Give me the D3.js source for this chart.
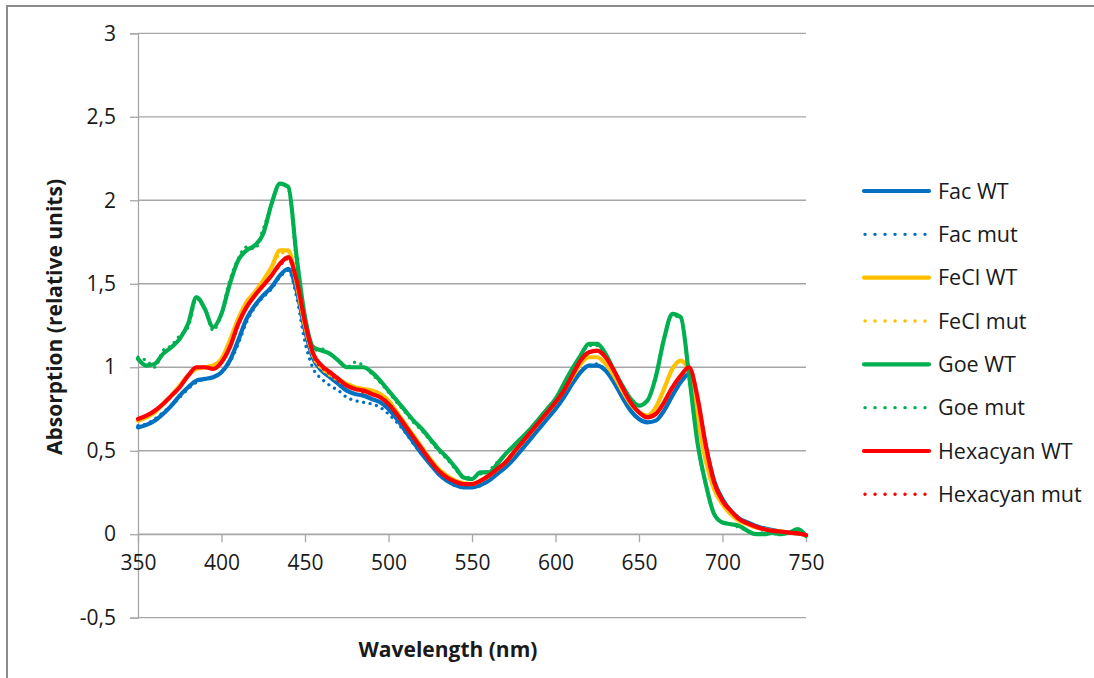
<!DOCTYPE html>
<html>
<head>
<meta charset="utf-8">
<script src="https://cdn.jsdelivr.net/npm/d3@7"></script>
<style>
  html, body { margin: 0; padding: 0; background: #fff; }
  svg { display: block; }
  text { font-family: "Open Sans", "Liberation Sans", sans-serif; fill: #1a1a1a; }
</style>
</head>
<body>
<svg id="chart" width="1094" height="678"></svg>
<script>
// Wavelength grid (nm)
const wavelengths = [
  350,355,360,365,370,375,380,385,390,395,
  400,405,410,415,420,425,430,435,440,445,
  450,455,460,465,470,475,480,485,490,495,
  500,505,510,515,520,525,530,535,540,545,
  550,555,560,565,570,575,580,585,590,595,
  600,605,610,615,620,625,630,635,640,645,
  650,655,660,665,670,675,680,685,690,695,
  700,705,710,715,720,725,730,735,740,745,
  750
];

const facWT = [
  0.64,0.655,0.68,0.72,0.77,0.83,0.88,0.92,0.93,0.94,
  0.97,1.04,1.16,1.29,1.37,1.43,1.48,1.55,1.59,1.46,
  1.22,1.05,0.98,0.94,0.90,0.86,0.84,0.83,0.81,0.79,
  0.75,0.69,0.62,0.55,0.48,0.42,0.36,0.32,0.295,0.28,
  0.28,0.295,0.32,0.36,0.40,0.45,0.51,0.57,0.63,0.69,
  0.75,0.82,0.90,0.97,1.01,1.01,0.98,0.91,0.82,0.74,
  0.69,0.67,0.68,0.74,0.83,0.91,0.96,0.80,0.53,0.32,
  0.21,0.14,0.095,0.07,0.05,0.035,0.025,0.015,0.01,0.005,
  -0.005
];
const facMut = [
  0.65,0.66,0.69,0.73,0.77,0.82,0.87,0.91,0.93,0.94,
  0.97,1.03,1.14,1.27,1.36,1.42,1.47,1.54,1.58,1.42,
  1.15,0.99,0.93,0.89,0.86,0.82,0.80,0.79,0.78,0.76,
  0.72,0.67,0.61,0.54,0.48,0.42,0.36,0.32,0.29,0.28,
  0.28,0.29,0.32,0.36,0.40,0.45,0.51,0.57,0.63,0.69,
  0.75,0.82,0.90,0.97,1.01,1.02,0.98,0.91,0.82,0.74,
  0.69,0.67,0.68,0.74,0.83,0.91,0.96,0.79,0.52,0.31,
  0.20,0.14,0.095,0.07,0.05,0.035,0.025,0.015,0.01,0.005,
  -0.005
];
const feclWT = [
  0.68,0.70,0.73,0.78,0.83,0.89,0.95,0.99,1.00,1.01,
  1.05,1.16,1.29,1.39,1.45,1.52,1.60,1.70,1.70,1.50,
  1.25,1.07,1.00,0.96,0.93,0.90,0.88,0.87,0.86,0.84,
  0.80,0.73,0.66,0.59,0.52,0.45,0.39,0.35,0.32,0.305,
  0.30,0.32,0.35,0.39,0.43,0.49,0.55,0.61,0.67,0.73,
  0.79,0.86,0.94,1.02,1.06,1.06,1.02,0.95,0.86,0.78,
  0.73,0.71,0.76,0.87,0.99,1.04,0.97,0.70,0.44,0.27,
  0.18,0.12,0.08,0.06,0.04,0.03,0.02,0.015,0.01,0.005,
  -0.005
];
const feclMut = [
  0.68,0.70,0.73,0.78,0.83,0.89,0.95,0.99,1.00,1.01,
  1.05,1.15,1.28,1.38,1.45,1.52,1.59,1.68,1.69,1.49,
  1.24,1.06,0.99,0.95,0.92,0.89,0.87,0.86,0.85,0.83,
  0.79,0.72,0.65,0.58,0.51,0.44,0.38,0.34,0.315,0.30,
  0.30,0.315,0.345,0.385,0.43,0.49,0.55,0.61,0.67,0.73,
  0.79,0.86,0.94,1.02,1.06,1.06,1.02,0.95,0.86,0.78,
  0.73,0.71,0.76,0.87,0.99,1.04,0.97,0.70,0.44,0.27,
  0.18,0.12,0.08,0.06,0.04,0.03,0.02,0.015,0.01,0.005,
  -0.005
];
const goeWT = [
  1.05,1.01,1.02,1.08,1.12,1.17,1.26,1.42,1.35,1.24,
  1.32,1.50,1.64,1.70,1.73,1.80,1.98,2.10,2.08,1.66,
  1.30,1.12,1.10,1.08,1.04,1.00,1.00,1.00,0.97,0.92,
  0.86,0.80,0.74,0.68,0.63,0.57,0.51,0.46,0.40,0.34,
  0.33,0.37,0.37,0.42,0.48,0.53,0.58,0.63,0.69,0.75,
  0.81,0.90,0.99,1.07,1.14,1.14,1.08,0.98,0.89,0.81,
  0.77,0.80,0.94,1.17,1.32,1.30,0.95,0.55,0.30,0.12,
  0.07,0.06,0.05,0.02,0.00,0.00,0.01,0.00,0.01,0.03,
  -0.01
];
const goeMut = [
  1.06,1.04,1.00,1.10,1.13,1.19,1.24,1.41,1.35,1.22,
  1.33,1.52,1.65,1.72,1.71,1.83,1.97,2.10,2.07,1.62,
  1.28,1.10,1.11,1.08,1.04,1.00,1.03,1.01,0.96,0.91,
  0.85,0.79,0.73,0.67,0.62,0.56,0.50,0.45,0.39,0.34,
  0.34,0.36,0.38,0.43,0.48,0.53,0.58,0.63,0.69,0.75,
  0.81,0.90,0.99,1.07,1.13,1.13,1.07,0.98,0.89,0.81,
  0.77,0.80,0.95,1.17,1.31,1.29,0.94,0.54,0.29,0.12,
  0.07,0.06,0.04,0.02,0.00,0.01,0.00,0.01,0.01,0.03,
  -0.01
];
const hexWT = [
  0.69,0.71,0.74,0.78,0.83,0.88,0.95,1.00,1.00,0.99,
  1.03,1.12,1.26,1.36,1.43,1.49,1.55,1.62,1.66,1.52,
  1.27,1.08,1.01,0.97,0.93,0.89,0.87,0.86,0.84,0.82,
  0.78,0.72,0.65,0.58,0.51,0.44,0.38,0.34,0.315,0.30,
  0.30,0.32,0.35,0.39,0.43,0.49,0.55,0.61,0.67,0.73,
  0.79,0.86,0.95,1.04,1.09,1.10,1.06,0.98,0.88,0.79,
  0.73,0.70,0.72,0.79,0.88,0.95,1.00,0.82,0.53,0.31,
  0.20,0.14,0.09,0.065,0.045,0.03,0.02,0.015,0.01,0.005,
  -0.005
];
const hexMut = [
  0.69,0.71,0.74,0.78,0.83,0.88,0.95,1.00,1.00,0.99,
  1.03,1.12,1.25,1.36,1.43,1.49,1.55,1.61,1.65,1.51,
  1.26,1.07,1.00,0.96,0.92,0.89,0.87,0.85,0.84,0.82,
  0.78,0.72,0.65,0.58,0.51,0.44,0.38,0.34,0.315,0.30,
  0.30,0.32,0.35,0.39,0.43,0.49,0.55,0.61,0.67,0.73,
  0.79,0.86,0.95,1.04,1.09,1.10,1.06,0.98,0.88,0.79,
  0.73,0.70,0.72,0.79,0.88,0.95,1.00,0.82,0.53,0.31,
  0.20,0.14,0.09,0.065,0.045,0.03,0.02,0.015,0.01,0.005,
  -0.005
];

const seriesNames = ["Fac WT","Fac mut","FeCl WT","FeCl mut","Goe WT","Goe mut","Hexacyan WT","Hexacyan mut"];
const seriesValues = [facWT, facMut, feclWT, feclMut, goeWT, goeMut, hexWT, hexMut];
const seriesColors = ["#0070C0","#0070C0","#FFC000","#FFC000","#00B050","#00B050","#FF0000","#FF0000"];
const seriesDotted = [false,true,false,true,false,true,false,true];

const xTicks = [350,400,450,500,550,600,650,700,750];
const yTicks = [-0.5,0,0.5,1,1.5,2,2.5,3];
const fmtComma = d => String(d).replace(".", ",");

const svg = d3.select("#chart");

// outer frame
svg.append("rect")
  .attr("x", 7).attr("y", 6).attr("width", 1200).attr("height", 800)
  .attr("fill", "none").attr("stroke", "#8c8c8c").attr("stroke-width", 2);

const plot = { left: 138, right: 806, top: 33.3, bottom: 617.7 };
const x = d3.scaleLinear().domain([350, 750]).range([plot.left, plot.right]);
const y = d3.scaleLinear().domain([-0.5, 3]).range([plot.bottom, plot.top]);

// horizontal gridlines
svg.append("g").selectAll("line").data(yTicks).join("line")
  .attr("x1", plot.left).attr("x2", plot.right)
  .attr("y1", d => y(d)).attr("y2", d => y(d))
  .attr("stroke", "#a6a6a6").attr("stroke-width", 1.3);

// y axis
const yAxis = svg.append("g").attr("transform", `translate(${plot.left},0)`)
  .call(d3.axisLeft(y).tickValues(yTicks).tickFormat(fmtComma).tickSize(8).tickPadding(14));
yAxis.select(".domain").attr("stroke", "#a6a6a6").attr("stroke-width", 1.3);
yAxis.selectAll(".tick line").attr("stroke", "#a6a6a6").attr("stroke-width", 1.3);
yAxis.selectAll(".tick text").attr("font-size", 21).attr("font-family", "Open Sans").attr("fill", "#1a1a1a");

// x axis drawn at zero
const xAxis = svg.append("g").attr("transform", `translate(0,${y(0)})`)
  .call(d3.axisBottom(x).tickValues(xTicks).tickSize(8).tickSizeOuter(0).tickPadding(24));
xAxis.select(".domain").attr("stroke", "#a6a6a6").attr("stroke-width", 1.3);
xAxis.selectAll(".tick line").attr("stroke", "#a6a6a6").attr("stroke-width", 1.3);
xAxis.selectAll(".tick text").attr("font-size", 21).attr("font-family", "Open Sans").attr("fill", "#1a1a1a")
  .attr("dy", "0.2em");

// spectra
const line = d3.line()
  .x((d, i) => x(wavelengths[i]))
  .y(d => y(d))
  .curve(d3.curveMonotoneX);

const lines = svg.append("g");
seriesValues.forEach((vals, k) => {
  const p = lines.append("path")
    .attr("d", line(vals))
    .attr("fill", "none")
    .attr("stroke", seriesColors[k])
    .attr("stroke-linejoin", "round");
  if (seriesDotted[k]) {
    p.attr("stroke-width", 3.2).attr("stroke-linecap", "round").attr("stroke-dasharray", "0.1 6.5");
  } else {
    p.attr("stroke-width", 4.2).attr("stroke-linecap", "round");
  }
});

// legend
const legend = svg.append("g");
seriesNames.forEach((name, k) => {
  const cy = 191 + k * 43.33;
  const l = legend.append("line")
    .attr("x1", seriesDotted[k] ? 865 : 864).attr("x2", seriesDotted[k] ? 925 : 929)
    .attr("y1", cy).attr("y2", cy)
    .attr("stroke", seriesColors[k]).attr("stroke-linecap", "round");
  if (seriesDotted[k]) l.attr("stroke-width", 3.4).attr("stroke-dasharray", "0.1 9.9");
  else l.attr("stroke-width", 4.2);
  legend.append("text")
    .attr("x", 938).attr("y", cy).attr("dy", "0.35em")
    .attr("font-size", 21.5).text(name);
});

// axis titles
svg.append("text")
  .attr("x", 448).attr("y", 657)
  .attr("text-anchor", "middle").attr("font-size", 21).attr("font-weight", "bold")
  .text("Wavelength (nm)");
svg.append("text")
  .attr("transform", "translate(62,317) rotate(-90)")
  .attr("text-anchor", "middle").attr("font-size", 21).attr("font-weight", "bold")
  .text("Absorption (relative units)");
</script>
</body>
</html>
